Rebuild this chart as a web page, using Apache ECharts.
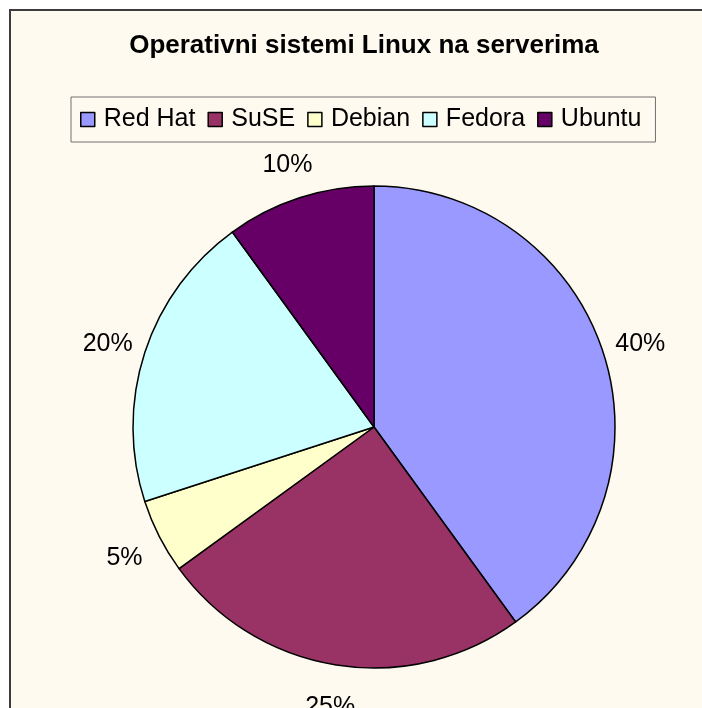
<!DOCTYPE html>
<html>
<head>
<meta charset="utf-8">
<title>Operativni sistemi Linux na serverima</title>
<script src="https://cdn.jsdelivr.net/npm/echarts@6/dist/echarts.min.js"></script>
<style>
    html, body { margin: 0; padding: 0; background: #ffffff; }
    #chart { width: 702px; height: 708px; }
</style>
</head>
<body>
<div id="chart"></div>
<script>
// podaci sa slike
const categories = ["Red Hat", "SuSE", "Debian", "Fedora", "Ubuntu"];
const shares = [40, 25, 5, 20, 10];
const sliceColors = ["#9999ff", "#993366", "#ffffcc", "#ccffff", "#660066"];

const fontFamily = "Arial, 'Liberation Sans', sans-serif";

const pieData = categories.map(function (name, i) {
    return { name: name, value: shares[i], itemStyle: { color: sliceColors[i] } };
});

const myChart = echarts.init(document.getElementById("chart"), null, { renderer: "canvas" });

const settings = {
    backgroundColor: "#ffffff",
    animation: false,
    graphic: [
        {
            // okvir grafikona
            type: "rect",
            z: -10,
            silent: true,
            shape: { x: 10, y: 10, width: 800, height: 800 },
            style: { fill: "#fffaf0", stroke: "#3c3c3c", lineWidth: 2 }
        }
    ],
    title: {
        text: "Operativni sistemi Linux na serverima",
        left: 364,
        top: 33,
        padding: 0,
        textAlign: "center",
        textStyle: {
            fontFamily: fontFamily,
            fontSize: 26,
            fontWeight: "bold",
            color: "#000000"
        }
    },
    legend: {
        left: 71,
        top: 97,
        orient: "horizontal",
        padding: [10, 14, 10, 9],
        itemGap: 12,
        itemWidth: 14,
        itemHeight: 14,
        icon: "rect",
        borderColor: "#707070",
        borderWidth: 1,
        backgroundColor: "#fffaf0",
        selectedMode: false,
        textStyle: {
            fontFamily: fontFamily,
            fontSize: 25,
            color: "#000000",
            padding: [0, 0, 0, 4]
        },
        data: categories.map(function (name, i) {
            return {
                name: name,
                itemStyle: { color: sliceColors[i], borderColor: "#000000", borderWidth: 1.5 }
            };
        })
    },
    series: [
        {
            name: "Linux",
            type: "pie",
            center: [374, 427],
            radius: 241,
            startAngle: 90,
            clockwise: true,
            silent: true,
            label: { show: false },
            labelLine: { show: false },
            itemStyle: { borderColor: "#000000", borderWidth: 1.5 },
            data: pieData
        },
        {
            // prsten bez boje samo za postotke
            name: "postotci",
            type: "pie",
            center: [374, 427],
            radius: [268, 286],
            startAngle: 90,
            clockwise: true,
            silent: true,
            legendHoverLink: false,
            itemStyle: { color: "rgba(0,0,0,0)", borderWidth: 0 },
            label: {
                show: true,
                position: "inside",
                formatter: "{d}%",
                offset: [0, 4],
                fontFamily: fontFamily,
                fontSize: 25,
                color: "#000000"
            },
            labelLine: { show: false },
            data: categories.map(function (name, i) {
                return { name: name, value: shares[i] };
            })
        }
    ]
};

myChart.setOption(settings);
</script>
</body>
</html>
